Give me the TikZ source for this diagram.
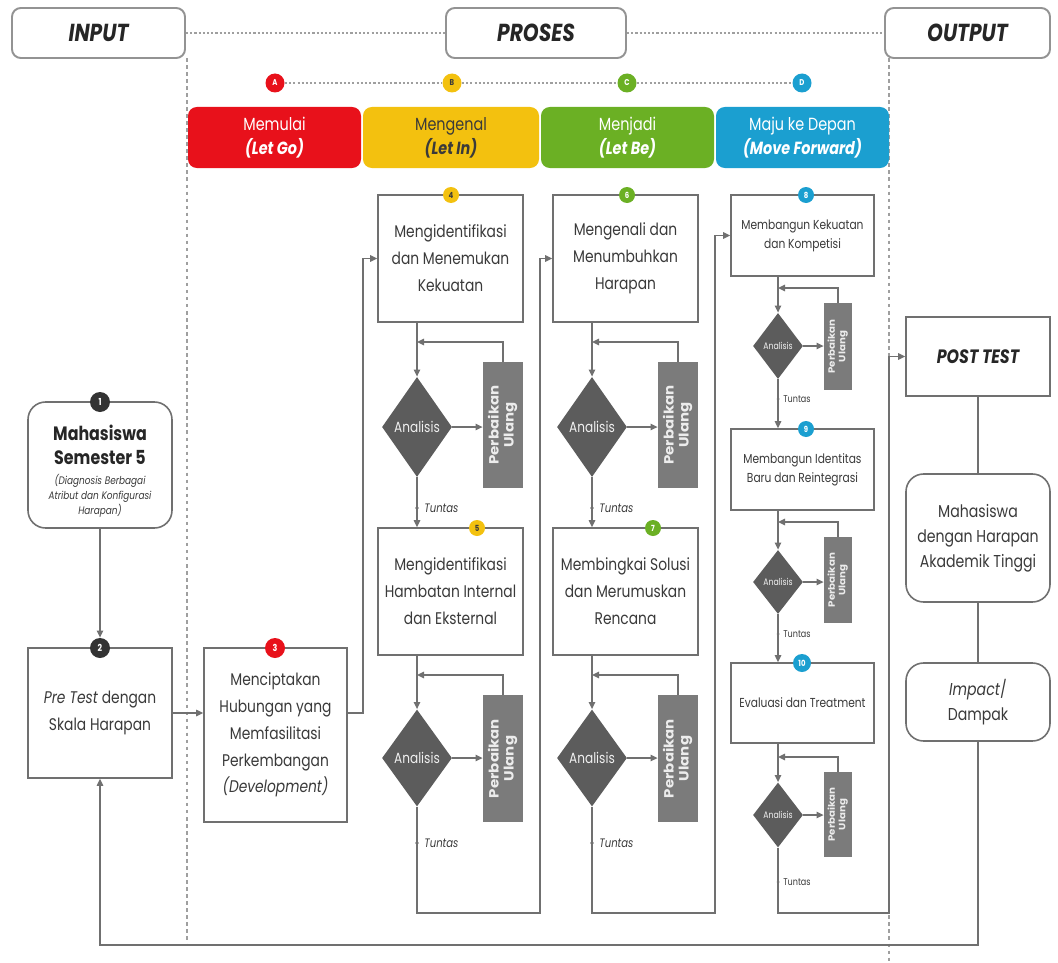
\documentclass[tikz,border=0pt]{standalone}
\usepackage{graphicx}
\usepackage{fontspec}
\setmainfont{Poppins}[FakeStretch=0.82]
\newfontfamily\rotfont{Poppins}[FakeStretch=1.12]
\usetikzlibrary{shapes.geometric,arrows.meta,calc}
\newdimen\px \px=0.02cm
\definecolor{cred}{HTML}{E8111B}
\definecolor{cyel}{HTML}{F3C10F}
\definecolor{cgrn}{HTML}{6BB024}
\definecolor{cblu}{HTML}{1B9FD0}
\definecolor{txt}{HTML}{3A3A3A}
\definecolor{ln}{HTML}{707070}
\definecolor{dia}{HTML}{5C5C5C}
\definecolor{fixc}{HTML}{7B7B7B}
\newcommand{\fmain}{\fontsize{9.6}{15.3}\selectfont}
\newcommand{\fsmall}{\fontsize{7.4}{10.8}\selectfont}
\newcommand{\perbB}{\rotatebox{90}{\rotfont\fontsize{7.6}{8.6}\bfseries\selectfont\begin{tabular}{@{}c@{}}Perbaikan\\Ulang\end{tabular}}}
\newcommand{\perbD}{\rotatebox{90}{\rotfont\fontsize{5.2}{6}\bfseries\selectfont\begin{tabular}{@{}c@{}}Perbaikan\\Ulang\end{tabular}}}
\begin{document}
\begin{tikzpicture}[x=0.02cm, y=-0.02cm,
  box/.style={draw=ln, line width=0.9pt, fill=white, text=txt, align=center, inner sep=0pt},
  rbox/.style={box, rounded corners=10pt},
  hdr/.style={draw=gray!85, line width=1.1pt, rounded corners=5pt, fill=white, minimum height=50\px, inner sep=0pt, text=black!85, font=\fontsize{14}{14}\bfseries\itshape\selectfont},
  bar/.style={rounded corners=5pt, minimum height=61\px, align=center, inner sep=0pt, font=\fontsize{10}{13.5}\selectfont},
  num/.style={circle, inner sep=0pt, minimum size=16\px, text=white, font=\fontsize{4.8}{5}\bfseries\selectfont},
  dec/.style={diamond, fill=dia, inner sep=0pt, text=white!88!gray},
  fixbox/.style={fill=fixc, inner sep=0pt, text=white!85!gray},
  conn/.style={draw=ln, line width=0.9pt, -{Triangle[length=4pt,width=3.6pt]}},
  wire/.style={draw=ln, line width=0.9pt},
  dotline/.style={draw=gray!75, line width=1pt, dash pattern=on 1.2pt off 1.2pt},
  vline/.style={draw=gray!75, line width=0.6pt, dash pattern=on 2pt off 2pt},
  tun/.style={anchor=west, text=txt, inner sep=0pt, font=\fontsize{7}{7}\itshape\selectfont},
  tunD/.style={anchor=west, text=txt, inner sep=0pt, font=\fontsize{5.6}{6}\selectfont}
]
\useasboundingbox (0,0) rectangle (1058,963);
\fill[white] (0,0) rectangle (1058,963);

% ---------- header ----------
\node[hdr, minimum width=173\px] (inp) at (98.5,33) {INPUT};
\node[hdr, minimum width=180\px] (pro) at (536,33) {PROSES};
\node[hdr, minimum width=165\px] (outp) at (967.5,33) {OUTPUT};
\draw[dotline] (inp.east) -- (pro.west);
\draw[dotline] (pro.east) -- (outp.west);
\draw[vline] (187,58) -- (187,945);
\draw[vline] (889,58) -- (889,963);

% ---------- phases ----------
\node[num, fill=cred, minimum size=19\px] (cA) at (275,83) {A};
\node[num, fill=cyel, text=txt, minimum size=19\px] (cB) at (452,83) {B};
\node[num, fill=cgrn, minimum size=19\px] (cC) at (627,83) {C};
\node[num, fill=cblu, minimum size=19\px] (cD) at (802,83) {D};
\draw[dotline] (cA) -- (cB);
\draw[dotline] (cB) -- (cC);
\draw[dotline] (cC) -- (cD);

\node[bar, fill=cred, text=white, minimum width=173\px] (barA) at (274.5,137.5) {Memulai\\\textbf{\textit{(Let Go)}}};
\node[bar, fill=cyel, text=txt, minimum width=176\px] (barB) at (451,137.5) {Mengenal\\\textbf{\textit{(Let In)}}};
\node[bar, fill=cgrn, text=white, minimum width=173\px] (barC) at (627.5,137.5) {Menjadi\\\textbf{\textit{(Let Be)}}};
\node[bar, fill=cblu, text=white, minimum width=173\px] (barD) at (802.5,137.5) {Maju ke Depan\\\textbf{\textit{(Move Forward)}}};

% ---------- input column ----------
\node[rbox, minimum width=144\px, minimum height=126\px] (mhs) at (100,465) {};
\node[num, fill=black!80, minimum size=20\px, font=\fontsize{5.5}{6}\bfseries\selectfont] (n1) at (100,402) {1};
\node[text=black!85, align=center, inner sep=0pt, font=\fontsize{11}{14}\bfseries\selectfont] (mhsT) at (100,445) {Mahasiswa\\Semester 5};
\node[text=txt, align=center, inner sep=0pt, font=\fontsize{6.2}{8.4}\itshape\selectfont] (mhsS) at (100,496) {(Diagnosis Berbagai\\Atribut dan Konfigurasi\\Harapan)};

\node[box, minimum width=144\px, minimum height=130\px, font=\fmain] (pre) at (100,713) {\textit{Pre Test} dengan\\Skala Harapan};
\node[num, fill=black!80, minimum size=20\px, font=\fontsize{5.5}{6}\bfseries\selectfont] (n2) at (100,648) {2};
\draw[conn] (mhs.south) -- (n2.north);

% ---------- column A ----------
\node[box, minimum width=143\px, minimum height=174\px, font=\fmain] (b3) at (275.5,735) {Menciptakan\\Hubungan yang\\Memfasilitasi\\Perkembangan\\\textit{(Development)}};
\node[num, fill=cred, minimum size=20\px, font=\fontsize{5.5}{6}\bfseries\selectfont] (n3) at (275,648) {3};
\draw[conn] (pre.east) -- (b3.west |- pre.east);

% ---------- column B ----------
\node[box, minimum width=145\px, minimum height=127\px, font=\fmain] (b4) at (450.5,258.5) {Mengidentifikasi\\dan Menemukan\\Kekuatan};
\node[num, fill=cyel, text=txt] (n4) at (451,195) {4};
\node[dec, minimum width=70\px, minimum height=100\px, font=\fontsize{8.4}{9}\selectfont] (d4) at (417,427) {Analisis};
\node[fixbox, minimum width=40\px, minimum height=126\px] (p4) at (503,425) {\perbB};
\coordinate (r4) at (417,342);
\draw[conn] (d4.north |- b4.south) -- (d4.north);
\draw[conn] (p4.north) |- (r4);
\draw[conn] (d4.east) -- (p4.west |- d4.east);

\node[box, minimum width=145\px, minimum height=127\px, font=\fmain] (b5) at (450.5,591.5) {Mengidentifikasi\\Hambatan Internal\\dan Eksternal};
\node[num, fill=cyel, text=txt] (n5) at (477,528) {5};
\draw[conn] (d4.south) -- (d4.south |- b5.north);
\fill[ln] (417,508) circle (1.8\px);
\node[tun] (t4) at (424,508) {Tuntas};

\node[dec, minimum width=70\px, minimum height=97\px, font=\fontsize{8.4}{9}\selectfont] (d5) at (417,758) {Analisis};
\node[fixbox, minimum width=40\px, minimum height=127\px] (p5) at (503,758.5) {\perbB};
\coordinate (r5) at (417,675);
\draw[conn] (d5.north |- b5.south) -- (d5.north);
\draw[conn] (p5.north) |- (r5);
\draw[conn] (d5.east) -- (p5.west |- d5.east);
\fill[ln] (417,843) circle (1.8\px);
\node[tun] (t5) at (424,843) {Tuntas};

% ---------- column C ----------
\node[box, minimum width=145\px, minimum height=127\px, font=\fmain] (b6) at (625.5,258.5) {Mengenali dan\\Menumbuhkan\\Harapan};
\node[num, fill=cgrn] (n6) at (627,195) {6};
\node[dec, minimum width=70\px, minimum height=100\px, font=\fontsize{8.4}{9}\selectfont] (d6) at (592,427) {Analisis};
\node[fixbox, minimum width=40\px, minimum height=126\px] (p6) at (678,425) {\perbB};
\coordinate (r6) at (592,342);
\draw[conn] (d6.north |- b6.south) -- (d6.north);
\draw[conn] (p6.north) |- (r6);
\draw[conn] (d6.east) -- (p6.west |- d6.east);

\node[box, minimum width=145\px, minimum height=127\px, font=\fmain] (b7) at (625.5,591.5) {Membingkai Solusi\\dan Merumuskan\\Rencana};
\node[num, fill=cgrn] (n7) at (653,528) {7};
\draw[conn] (d6.south) -- (d6.south |- b7.north);
\fill[ln] (592,508) circle (1.8\px);
\node[tun] (t6) at (599,508) {Tuntas};

\node[dec, minimum width=70\px, minimum height=97\px, font=\fontsize{8.4}{9}\selectfont] (d7) at (592,758) {Analisis};
\node[fixbox, minimum width=40\px, minimum height=127\px] (p7) at (678,758.5) {\perbB};
\coordinate (r7) at (592,675);
\draw[conn] (d7.north |- b7.south) -- (d7.north);
\draw[conn] (p7.north) |- (r7);
\draw[conn] (d7.east) -- (p7.west |- d7.east);
\fill[ln] (592,843) circle (1.8\px);
\node[tun] (t7) at (599,843) {Tuntas};

% ---------- column D ----------
\node[box, minimum width=143\px, minimum height=81\px, font=\fsmall] (b8) at (802.5,235.5) {Membangun Kekuatan\\dan Kompetisi};
\node[num, fill=cblu] (n8) at (806,195) {8};
\node[dec, minimum width=50\px, minimum height=66\px, font=\fontsize{5.4}{6}\selectfont] (d8) at (778,346) {Analisis};
\node[fixbox, minimum width=28\px, minimum height=87\px] (p8) at (838,346.5) {\perbD};
\coordinate (r8) at (778,288);
\draw[conn] (d8.north |- b8.south) -- (d8.north);
\draw[conn] (p8.north) |- (r8);
\draw[conn] (d8.east) -- (p8.west |- d8.east);

\node[box, minimum width=143\px, minimum height=81\px, font=\fsmall] (b9) at (802.5,469.5) {Membangun Identitas\\Baru dan Reintegrasi};
\node[num, fill=cblu] (n9) at (806,429) {9};
\draw[conn] (d8.south) -- (d8.south |- b9.north);
\fill[ln] (778,399) circle (1.5\px);
\node[tunD] (t8) at (783,399) {Tuntas};

\node[dec, minimum width=50\px, minimum height=64\px, font=\fontsize{5.4}{6}\selectfont] (d9) at (778,582) {Analisis};
\node[fixbox, minimum width=28\px, minimum height=86\px] (p9) at (838,580) {\perbD};
\coordinate (r9) at (778,522);
\draw[conn] (d9.north |- b9.south) -- (d9.north);
\draw[conn] (p9.north) |- (r9);
\draw[conn] (d9.east) -- (p9.west |- d9.east);

\node[box, minimum width=143\px, minimum height=80\px, font=\fsmall] (b10) at (802.5,703) {Evaluasi dan Treatment};
\node[num, fill=cblu, minimum size=18\px] (n10) at (802,663) {10};
\draw[conn] (d9.south) -- (d9.south |- b10.north);
\fill[ln] (778,634) circle (1.5\px);
\node[tunD] (t9) at (783,634) {Tuntas};

\node[dec, minimum width=50\px, minimum height=65\px, font=\fontsize{5.4}{6}\selectfont] (d10) at (778,815) {Analisis};
\node[fixbox, minimum width=28\px, minimum height=85\px] (p10) at (838,814.5) {\perbD};
\coordinate (r10) at (778,757);
\draw[conn] (d10.north |- b10.south) -- (d10.north);
\draw[conn] (p10.north) |- (r10);
\draw[conn] (d10.east) -- (p10.west |- d10.east);
\fill[ln] (778,882) circle (1.5\px);
\node[tunD] (t10) at (783,882) {Tuntas};

% ---------- output column ----------
\node[box, minimum width=144\px, minimum height=79\px, text=black!85, font=\fontsize{11}{11}\bfseries\itshape\selectfont] (post) at (978,356.5) {POST TEST};
\node[rbox, minimum width=144\px, minimum height=128\px, font=\fontsize{9.8}{14.2}\selectfont] (mh2) at (978,538) {Mahasiswa\\dengan Harapan\\Akademik Tinggi};
\node[rbox, minimum width=144\px, minimum height=78\px, font=\fontsize{9.8}{14.2}\selectfont] (imp) at (978,702) {\textit{Impact}/\\Dampak};
\draw[wire] (post.south) -- (mh2.north);
\draw[wire] (mh2.south) -- (imp.north);

% ---------- flow between columns ----------
\coordinate (cBB) at (540,913);
\coordinate (cCC) at (715,913);
\coordinate (cDD) at (889,913);
\coordinate (cFF) at (100,945);
\draw[conn] (b3.east |- pre.east) -- ++(15,0) |- (b4.west);
\draw[conn] (d5.south) |- (cBB) |- (b6.west);
\draw[conn] (d7.south) |- (cCC) |- (b8.west);
\draw[conn] (d10.south) |- (cDD) |- (post.west);
\draw[conn] (imp.south) |- (cFF) -- (pre.south);
\end{tikzpicture}
\end{document}
